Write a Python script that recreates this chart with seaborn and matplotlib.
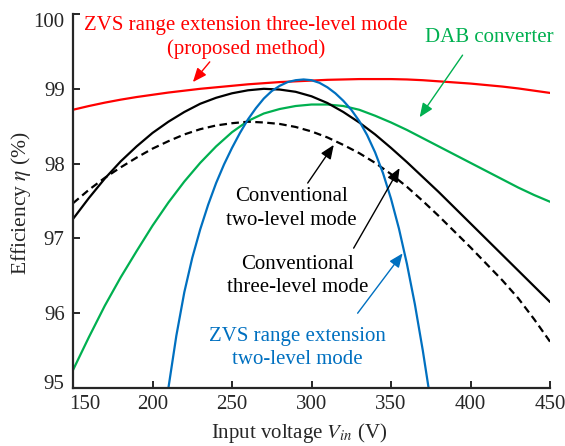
import matplotlib
matplotlib.use("Agg")
import matplotlib.pyplot as plt
import matplotlib.transforms as mtransforms
import seaborn as sns

# ---------------- data ----------------
voltage = list(range(150, 460, 10))

eff_proposed = [98.72, 98.77, 98.815, 98.855, 98.89, 98.92, 98.95, 98.975, 99.00, 99.02,
                99.04, 99.06, 99.075, 99.09, 99.10, 99.11, 99.12, 99.125, 99.13, 99.13,
                99.13, 99.125, 99.115, 99.10, 99.085, 99.07, 99.05, 99.03, 99.005, 98.975, 98.945]

eff_conv_three = [97.26, 97.54, 97.80, 98.03, 98.23, 98.41, 98.56, 98.69, 98.80, 98.88,
                  98.94, 98.98, 99.00, 98.99, 98.96, 98.90, 98.81, 98.69, 98.55, 98.39,
                  98.21, 98.02, 97.82, 97.62, 97.41, 97.20, 96.99, 96.78, 96.57, 96.36, 96.15]

eff_conv_two = [97.47, 97.65, 97.81, 97.95, 98.08, 98.20, 98.30, 98.39, 98.46, 98.51,
                98.54, 98.56, 98.55, 98.53, 98.49, 98.43, 98.35, 98.25, 98.14, 98.01,
                97.86, 97.69, 97.50, 97.30, 97.09, 96.88, 96.66, 96.44, 96.20, 95.92, 95.62]

eff_dab = [95.24, 95.68, 96.10, 96.48, 96.83, 97.17, 97.48, 97.76, 98.01, 98.23,
           98.42, 98.57, 98.67, 98.73, 98.77, 98.79, 98.79, 98.77, 98.72, 98.64,
           98.55, 98.45, 98.34, 98.23, 98.12, 98.01, 97.90, 97.79, 97.68, 97.58, 97.49]

voltage_zvs_two = [210, 215, 220, 225, 230, 235, 240, 245, 250, 255, 260, 265, 270, 275,
                   280, 285, 290, 295, 300, 305, 310, 315, 320, 325, 330, 335, 340, 345,
                   350, 355, 360, 365, 370, 374]
eff_zvs_two = [95.00, 95.70, 96.28, 96.74, 97.12, 97.45, 97.74, 97.99, 98.21, 98.41,
               98.59, 98.74, 98.87, 98.97, 99.04, 99.09, 99.115, 99.125, 99.115, 99.08,
               99.02, 98.94, 98.84, 98.72, 98.57, 98.38, 98.15, 97.87, 97.53, 97.13,
               96.66, 96.12, 95.50, 94.95]

x_ticks = [150, 200, 250, 300, 350, 400, 450]
y_ticks = [95, 96, 97, 98, 99, 100]

RED = "#FF0000"
GREEN = "#00B050"
BLUE = "#0070C0"
BLACK = "#000000"

# ---------------- style ----------------
sns.set_style("ticks")
plt.rcParams["font.family"] = ["Liberation Serif", "DejaVu Serif"]
plt.rcParams["mathtext.fontset"] = "stix"

fig = plt.figure(figsize=(5.65, 4.46), dpi=100)
ax = fig.add_axes([0.1292, 0.130, 0.8443, 0.8386])

lw = 1.6
sns.lineplot(x=voltage, y=eff_proposed, ax=ax, color=RED, lw=lw)
sns.lineplot(x=voltage, y=eff_dab, ax=ax, color=GREEN, lw=lw)
sns.lineplot(x=voltage, y=eff_conv_three, ax=ax, color=BLACK, lw=lw)
sns.lineplot(x=voltage, y=eff_conv_two, ax=ax, color=BLACK, lw=lw)
ax.lines[-1].set_dashes([3.4, 2.0])
sns.lineplot(x=voltage_zvs_two, y=eff_zvs_two, ax=ax, color=BLUE, lw=lw)

ax.set_xlim(150, 450)
ax.set_ylim(95, 100)
ax.set_xticks(x_ticks)
ax.set_yticks(y_ticks)
ax.set_xticklabels([str(v) for v in x_ticks])
ax.set_yticklabels([str(v) for v in y_ticks])

sns.despine(ax=ax)
for s in ("left", "bottom"):
    ax.spines[s].set_linewidth(1.6)
ax.tick_params(direction="in", length=5, width=1.4, labelsize=15, pad=6)
ax.tick_params(axis="x", pad=5)

# shift the corner labels away from each other
xl0 = ax.get_xticklabels()[0]
xl0.set_transform(xl0.get_transform() + mtransforms.ScaledTranslation(0.12, 0, fig.dpi_scale_trans))
yl0 = ax.get_yticklabels()[0]
yl0.set_transform(yl0.get_transform() + mtransforms.ScaledTranslation(0, 0.06, fig.dpi_scale_trans))
yl5 = ax.get_yticklabels()[-1]
yl5.set_transform(yl5.get_transform() + mtransforms.ScaledTranslation(0, -0.06, fig.dpi_scale_trans))

ax.set_xlabel(r"Input voltage $V_{in}$ (V)", fontsize=15)
ax.set_ylabel(r"Efficiency $\eta$ (%)", fontsize=15.5)
ax.xaxis.set_label_coords(0.473, -0.088)
ax.yaxis.set_label_coords(-0.083, 0.495)

# ---------------- annotations ----------------
fs = 15
ls = 1.3
ax.text(258.7, 99.69, "ZVS range extension three-level mode\n(proposed method)",
        color=RED, fontsize=fs, ha="center", va="center", linespacing=ls)
ax.text(411.9, 99.69, "DAB converter", color=GREEN, fontsize=fs, ha="center", va="center")
ax.text(287.5, 97.40, "Conventional\ntwo-level mode", color=BLACK, fontsize=fs,
        ha="center", va="center", linespacing=ls)
ax.text(291.0, 96.50, "Conventional\nthree-level mode", color=BLACK, fontsize=fs,
        ha="center", va="center", linespacing=ls)
ax.text(291.0, 95.53, "ZVS range extension\ntwo-level mode", color=BLUE, fontsize=fs,
        ha="center", va="center", linespacing=ls)

def arrow(tip, tail, color):
    ax.annotate("", xy=tip, xytext=tail,
                arrowprops=dict(arrowstyle="-|>,head_length=0.6,head_width=0.25",
                                color=color, lw=1.0, mutation_scale=14,
                                shrinkA=0, shrinkB=0))

arrow((225.4, 99.09), (236.0, 99.36), RED)
arrow((368.0, 98.62), (395.0, 99.45), GREEN)
arrow((314.0, 98.25), (297.6, 97.74), BLACK)
arrow((355.4, 97.94), (326.5, 96.87), BLACK)
arrow((357.3, 96.80), (329.0, 96.00), BLUE)

fig.savefig("out.png", dpi=100)
